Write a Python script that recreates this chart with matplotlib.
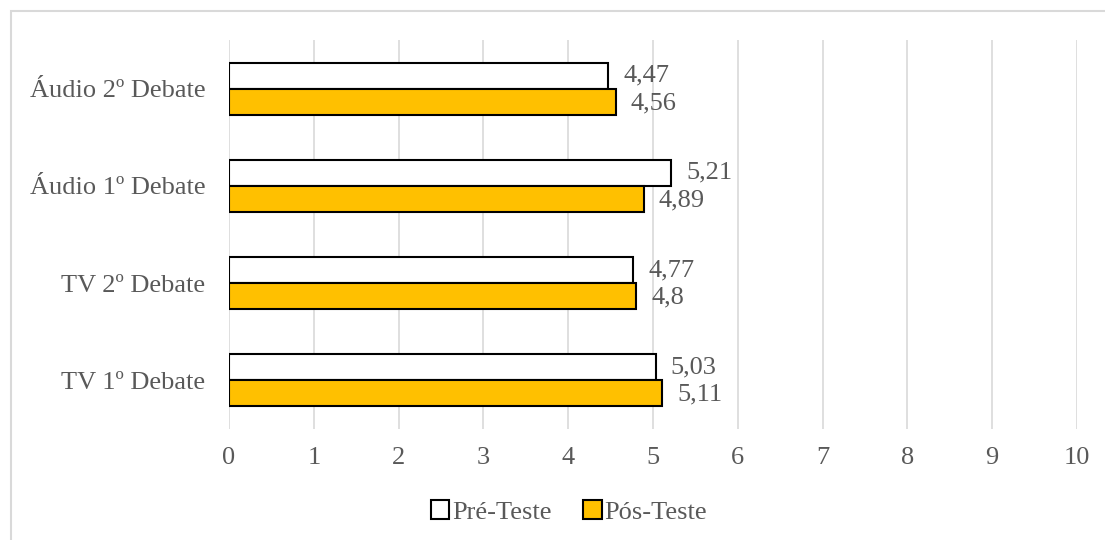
import matplotlib.pyplot as plt
from matplotlib.patches import Rectangle

# ---------------- data ----------------
categorias = ["TV 1º Debate", "TV 2º Debate", "Áudio 1º Debate", "Áudio 2º Debate"]
pre_teste = [5.03, 4.77, 5.21, 4.47]
pos_teste = [5.11, 4.80, 4.89, 4.56]
rotulos_pre = ["5,03", "4,77", "5,21", "4,47"]
rotulos_pos = ["5,11", "4,8", "4,89", "4,56"]
ticks_x = list(range(0, 11))

plt.rcParams['font.family'] = ['Liberation Serif', 'DejaVu Serif']
cinza = '#595959'
laranja = '#FFC000'
fs = 19

fig = plt.figure(figsize=(11.05, 5.4), dpi=100)
ax = fig.add_axes([229 / 1105, 1 - 429 / 540, (1077 - 229) / 1105, (429 - 40) / 540])

h = 0.267
pos = list(range(len(categorias)))
b_pre = ax.barh([p + h / 2 for p in pos], pre_teste, height=h, color='white',
                edgecolor='black', linewidth=1.5, label='Pré-Teste', zorder=3)
b_pos = ax.barh([p - h / 2 for p in pos], pos_teste, height=h, color=laranja,
                edgecolor='black', linewidth=1.5, label='Pós-Teste', zorder=3)

# rotulos de dados
for i in pos:
    ax.annotate(rotulos_pre[i], (pre_teste[i], i + h / 2), xytext=(11, 0),
                textcoords='offset points', va='center', ha='left',
                fontsize=fs, color=cinza)
    ax.annotate(rotulos_pos[i], (pos_teste[i], i - h / 2), xytext=(11, -1),
                textcoords='offset points', va='center', ha='left',
                fontsize=fs, color=cinza)

ax.set_xlim(0, 10)
ax.set_ylim(-0.5, len(categorias) - 0.5)
ax.set_xticks(ticks_x)
ax.set_yticks(pos)
ax.set_yticklabels(categorias)
ax.tick_params(axis='both', length=0, labelsize=fs, labelcolor=cinza)
ax.tick_params(axis='x', pad=13)
ax.tick_params(axis='y', pad=17)
ax.grid(axis='x', color='#D9D9D9', linewidth=1.2, zorder=0)
ax.set_axisbelow(True)
for s in ax.spines.values():
    s.set_visible(False)

leg = fig.legend(handles=[b_pre, b_pos], loc='center',
                 bbox_to_anchor=(569 / 1105, 1 - 512 / 540), ncol=2, frameon=False,
                 fontsize=fs, handlelength=0.7, handleheight=0.7,
                 handletextpad=0.1, columnspacing=1.2, borderaxespad=0)
for t in leg.get_texts():
    t.set_color(cinza)

# borda da area do grafico
fig.patches.append(Rectangle((11 / 1105, -0.1), 1.2, 1 - 11 / 540 + 0.1,
                             transform=fig.transFigure, fill=False,
                             edgecolor='#D9D9D9', linewidth=1.5))

fig.savefig('out.png', dpi=100)
